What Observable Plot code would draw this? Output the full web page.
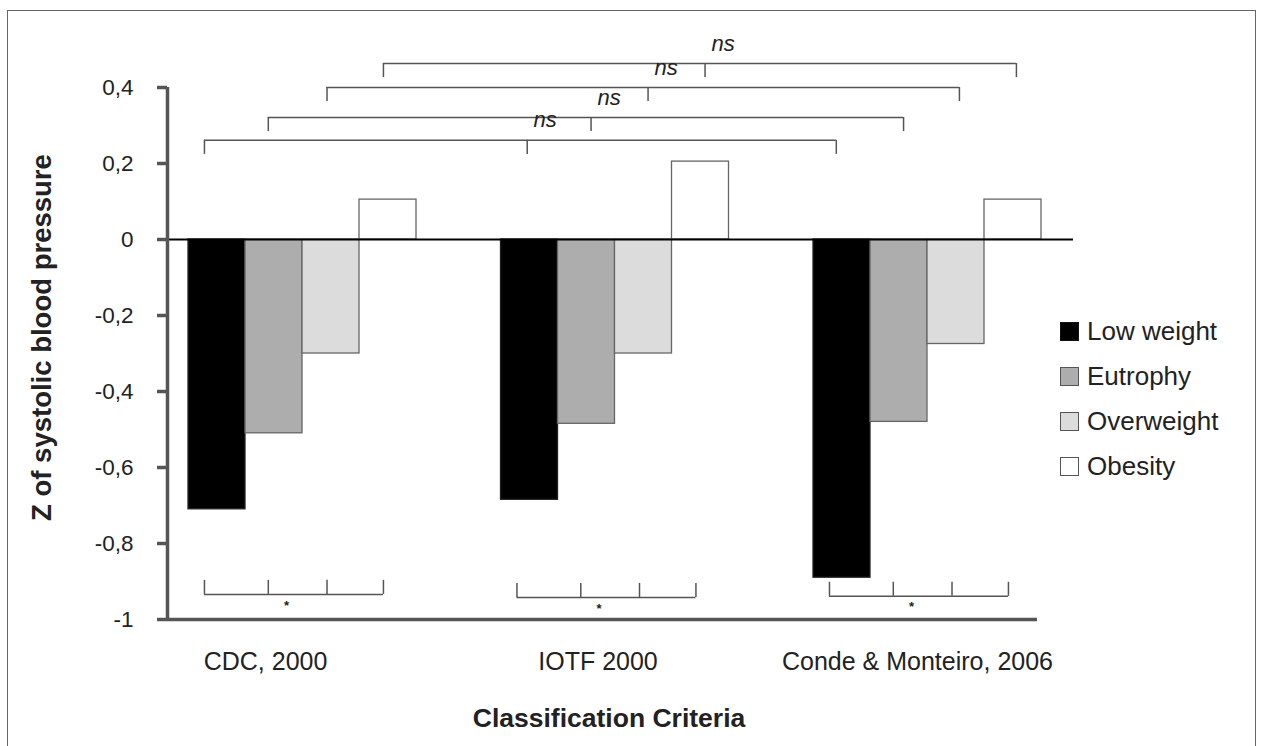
<!DOCTYPE html>
<html>
<head>
<meta charset="utf-8">
<script src="https://cdn.jsdelivr.net/npm/d3@7"></script>
<script src="https://cdn.jsdelivr.net/npm/@observablehq/plot@0.6"></script>
<style>
  html, body { margin: 0; padding: 0; background: #fff; overflow: hidden; }
  #wrap { position: relative; width: 1264px; height: 746px; font-family: "Liberation Sans", Arial, sans-serif; }
  #border { position: absolute; left: 7px; top: 10px; width: 1249px; height: 745px; border: 1.5px solid #666; box-sizing: border-box; pointer-events: none; }
  #legend { position: absolute; left: 1060px; top: 309px; color: #222; font-size: 26px; }
  #legend .row { display: flex; align-items: center; height: 45px; }
  #legend .sw { width: 19px; height: 19px; box-sizing: border-box; border: 1.5px solid #555; margin-right: 8px; }
</style>
</head>
<body>
<div id="wrap">
  <div id="chart"></div>
  <div id="legend"></div>
  <div id="border"></div>
</div>
<script>
// ---- data ----
const criteria = ["CDC, 2000", "IOTF 2000", "Conde & Monteiro, 2006"];
const classes = ["Low weight", "Eutrophy", "Overweight", "Obesity"];
const lowWeight = [-0.71, -0.685, -0.89];
const eutrophy = [-0.51, -0.485, -0.48];
const overweight = [-0.30, -0.30, -0.275];
const obesity = [0.105, 0.205, 0.105];
const yTicks = [0.4, 0.2, 0, -0.2, -0.4, -0.6, -0.8, -1];
const classColors = ["#000000", "#adadad", "#dcdcdc", "#ffffff"];
const topLabel = "ns";
const bottomLabel = "*";
const xTitle = "Classification Criteria";
const yTitle = "Z of systolic blood pressure";

// ---- layout constants (annotation geometry) ----
const PXX = 312.5;              // px per x unit (group spacing)
const BW = 57 / PXX;            // bar width in x units
const XMIN = (167 - 302) / PXX; // y-axis position
const XMAX = (1073 - 302) / PXX;
const FONT = "Liberation Sans, Arial, sans-serif";
const labelShift = [-37, -17, -10]; // px shift of category labels

const series = [lowWeight, eutrophy, overweight, obesity];
const rows = [];
criteria.forEach((c, i) => classes.forEach((k, j) => rows.push({criterion: c, cls: k, gi: i, j, value: series[j][i]})));

// top brackets (one per class, spanning the 3 criteria)
const topY = [0.261, 0.321, 0.40, 0.463];
const topFrac = [[0.28, 1.40, 2.43, 3.42], [0.46, 1.58, 2.58, 3.58], [0.40, 1.58, 2.56, 3.56]];
const TL = 0.037;
const groupLeft = gi => gi - 2 * BW;
const topH = [], topV = [], topT = [];
classes.forEach((k, j) => {
  const xs = criteria.map((c, gi) => groupLeft(gi) + topFrac[gi][j] * BW);
  topH.push({x1: xs[0], x2: xs[2], y: topY[j]});
  xs.forEach(x => topV.push({x, y1: topY[j] - TL, y2: topY[j]}));
  topT.push({x: xs[1] + 18 / PXX, y: topY[j], text: topLabel});
});
// bottom brackets (one per criterion, spanning the 4 classes)
const botY = [-0.934, -0.942, -0.939];
const botFrac = [0.28, 1.40, 2.43, 3.42];
const botH = [], botV = [], botT = [];
criteria.forEach((c, gi) => {
  const xs = botFrac.map(f => groupLeft(gi) + f * BW);
  botH.push({x1: xs[0], x2: xs[3], y: botY[gi]});
  xs.forEach(x => botV.push({x, y1: botY[gi], y2: botY[gi] + TL}));
  botT.push({x: groupLeft(gi) + 1.72 * BW, y: botY[gi], text: bottomLabel});
});

const fmt = d => d === 0 ? "0" : (Number.isInteger(d) ? String(d) : d.toFixed(1).replace(".", ","));

const chart = Plot.plot({
  width: 1264,
  height: 746,
  marginLeft: 167,
  marginRight: 1264 - 1073,
  marginTop: 87,
  marginBottom: 746 - 619,
  style: {fontFamily: FONT, background: "transparent", color: "#222"},
  x: {domain: [XMIN, XMAX], axis: null},
  y: {domain: [-1, 0.4], axis: null},
  color: {domain: classes, range: classColors},
  marks: [
    Plot.rect(rows, {
      x1: d => groupLeft(d.gi) + d.j * BW,
      x2: d => groupLeft(d.gi) + (d.j + 1) * BW,
      y1: 0, y2: "value",
      fill: "cls",
      stroke: d => d.j === 0 ? "#222" : "#666",
      strokeWidth: 1.3
    }),
    // axes
    Plot.ruleY([0], {x1: XMIN, x2: XMAX, stroke: "#000", strokeWidth: 2}),
    Plot.ruleY([-1], {x1: XMIN, x2: 2 + 2 * BW - 4 / PXX, stroke: "#555", strokeWidth: 3.5}),
    Plot.ruleX([XMIN], {y1: -1, y2: 0.4, stroke: "#555", strokeWidth: 3.5}),
    Plot.ruleY(yTicks, {x1: XMIN - 10 / PXX, x2: XMIN, stroke: "#555", strokeWidth: 3.5}),
    Plot.text(yTicks, {x: XMIN, y: d => d, text: fmt, dx: -34, textAnchor: "end", fontSize: 22.5, fill: "#222"}),
    Plot.text(criteria, {x: (d, i) => i + labelShift[i] / PXX, y: -1, dy: 42, text: d => d, fontSize: 25, fill: "#222"}),
    Plot.text([xTitle], {x: 1 - 6 / PXX, y: -1, dy: 99, text: d => d, fontSize: 26.5, fontWeight: "bold", fill: "#222"}),
    Plot.text([yTitle], {x: (42 - 302) / PXX, y: -0.258, text: d => d, rotate: -90, fontSize: 27.5, fontWeight: "bold", fill: "#222"}),
    // top brackets
    Plot.ruleY(topH, {x1: "x1", x2: "x2", y: "y", stroke: "#555", strokeWidth: 1.5}),
    Plot.ruleX(topV, {x: "x", y1: "y1", y2: "y2", stroke: "#555", strokeWidth: 1.5}),
    Plot.text(topT, {x: "x", y: "y", text: "text", dy: -20, fontSize: 22, fontStyle: "italic", fill: "#222"}),
    // bottom brackets
    Plot.ruleY(botH, {x1: "x1", x2: "x2", y: "y", stroke: "#555", strokeWidth: 1.5}),
    Plot.ruleX(botV, {x: "x", y1: "y1", y2: "y2", stroke: "#555", strokeWidth: 1.5}),
    Plot.text(botT, {x: "x", y: "y", text: "text", dy: 11, fontSize: 13, fontWeight: "bold", fill: "#222"})
  ]
});
document.getElementById("chart").appendChild(chart);

// legend
const leg = document.getElementById("legend");
classes.forEach((k, j) => {
  const row = document.createElement("div");
  row.className = "row";
  const sw = document.createElement("div");
  sw.className = "sw";
  sw.style.background = classColors[j];
  if (j === 0) sw.style.borderColor = "#111";
  const t = document.createElement("span");
  t.textContent = k;
  row.appendChild(sw); row.appendChild(t);
  leg.appendChild(row);
});
</script>
</body>
</html>
